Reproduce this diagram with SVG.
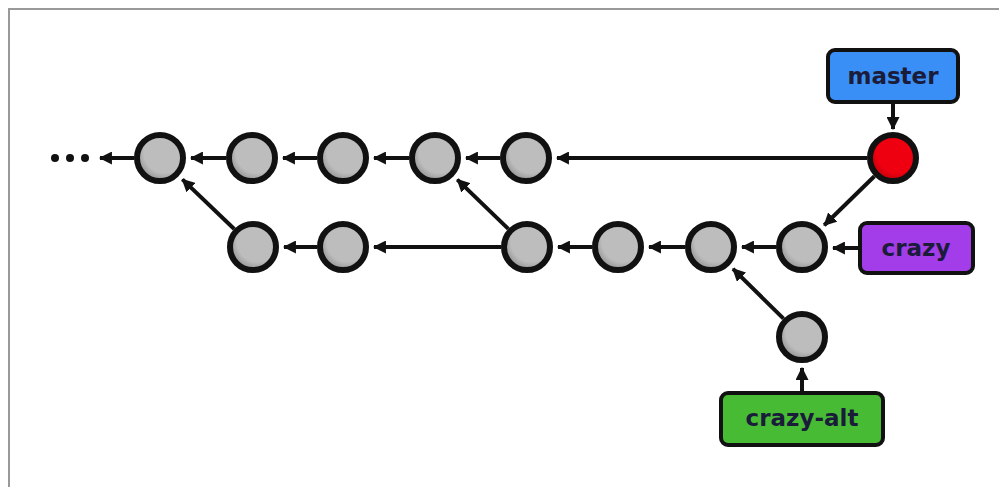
<svg xmlns="http://www.w3.org/2000/svg" width="999" height="487" viewBox="0 0 999 487">
  <defs>
    <radialGradient id="gGray" cx="0.6" cy="0.38" r="0.62">
      <stop offset="0.72" stop-color="#bdbdbd"/>
      <stop offset="1" stop-color="#979797"/>
    </radialGradient>
    <radialGradient id="gRed" cx="0.6" cy="0.38" r="0.62">
      <stop offset="0.72" stop-color="#ee0010"/>
      <stop offset="1" stop-color="#c0000a"/>
    </radialGradient>
    <marker id="arr" viewBox="0 0 12 12" refX="11" refY="6" markerWidth="13" markerHeight="13" markerUnits="userSpaceOnUse" orient="auto">
      <path d="M0,0 L12,6 L0,12 z" fill="#111"/>
    </marker>
  </defs>
  <style>
    .edge { stroke: #111; stroke-width: 4; fill: none; marker-end: url(#arr); }
    .commit { fill: url(#gGray); stroke: #111; stroke-width: 6; }
    .head { fill: url(#gRed); stroke: #111; stroke-width: 6; }
    .lbl { stroke: #111; stroke-width: 4; }
    .txt { font-family: "DejaVu Sans", "Liberation Sans", sans-serif; font-weight: bold; font-size: 23px; fill: #1b1b3a; text-anchor: middle; }
  </style>
  <rect width="999" height="487" fill="#fff"/>
  <path d="M9,487 L9,9 L999,9" stroke="#999" stroke-width="2" fill="none"/>

  <g id="connectors">
    <line class="edge" x1="134" y1="158" x2="100" y2="158"/>
    <line class="edge" x1="226" y1="158" x2="191" y2="158"/>
    <line class="edge" x1="317" y1="158" x2="283" y2="158"/>
    <line class="edge" x1="409" y1="158" x2="374" y2="158"/>
    <line class="edge" x1="500" y1="158" x2="466" y2="158"/>
    <line class="edge" x1="867" y1="158" x2="557" y2="158"/>
    <line class="edge" x1="317" y1="247" x2="284" y2="247"/>
    <line class="edge" x1="501" y1="247" x2="374" y2="247"/>
    <line class="edge" x1="592" y1="247" x2="558" y2="247"/>
    <line class="edge" x1="685" y1="247" x2="649" y2="247"/>
    <line class="edge" x1="776" y1="247" x2="742" y2="247"/>
    <line class="edge" x1="234.2" y1="229" x2="182.4" y2="179.4"/>
    <line class="edge" x1="508.3" y1="228.9" x2="457.3" y2="179.6"/>
    <line class="edge" x1="874.4" y1="176.2" x2="824.2" y2="225.3"/>
    <line class="edge" x1="783.5" y1="318.7" x2="733" y2="268.8"/>
    <line class="edge" x1="893" y1="102" x2="893" y2="129"/>
    <line class="edge" x1="860" y1="248" x2="833" y2="248"/>
    <line class="edge" x1="802" y1="393" x2="802" y2="368"/>
  </g>

  <g id="ellipsis">
    <circle cx="55" cy="158" r="4" fill="#111"/>
    <circle cx="70" cy="158" r="4" fill="#111"/>
    <circle cx="85" cy="158" r="4" fill="#111"/>
  </g>

  <g id="c1"><circle class="commit" cx="160" cy="158" r="23"/></g>
  <g id="c2"><circle class="commit" cx="252" cy="158" r="23"/></g>
  <g id="c3"><circle class="commit" cx="343" cy="158" r="23"/></g>
  <g id="c4"><circle class="commit" cx="435" cy="158" r="23"/></g>
  <g id="c5"><circle class="commit" cx="526" cy="158" r="23"/></g>
  <g id="c-master"><circle class="head" cx="893" cy="158" r="23"/></g>
  <g id="b1"><circle class="commit" cx="253" cy="247" r="23"/></g>
  <g id="b2"><circle class="commit" cx="343" cy="247" r="23"/></g>
  <g id="b3"><circle class="commit" cx="527" cy="247" r="23"/></g>
  <g id="b4"><circle class="commit" cx="618" cy="247" r="23"/></g>
  <g id="b5"><circle class="commit" cx="711" cy="247" r="23"/></g>
  <g id="b6"><circle class="commit" cx="802" cy="247" r="23"/></g>
  <g id="alt1"><circle class="commit" cx="802" cy="337" r="23"/></g>

  <g id="label-master">
    <rect class="lbl" x="828" y="50" width="130" height="52" rx="7" fill="#3a8ff6"/>
    <text class="txt" x="893" y="84">master</text>
  </g>
  <g id="label-crazy">
    <rect class="lbl" x="860" y="223" width="113" height="50" rx="7" fill="#a23de9"/>
    <text class="txt" x="916" y="256">crazy</text>
  </g>
  <g id="label-crazy-alt">
    <rect class="lbl" x="721" y="393" width="162" height="52" rx="7" fill="#46bb33"/>
    <text class="txt" x="802" y="426">crazy-alt</text>
  </g>
</svg>
